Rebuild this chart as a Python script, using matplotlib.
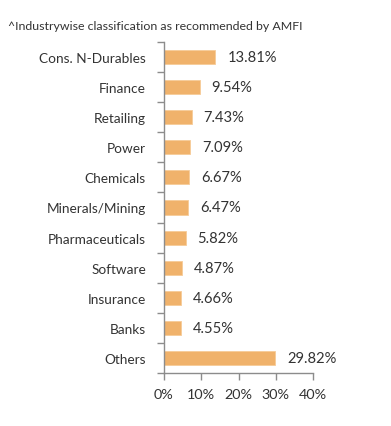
import matplotlib.pyplot as plt
import numpy as np

plt.rcParams['font.family'] = ['Lato', 'DejaVu Sans']

categories = ["Cons. N-Durables", "Finance", "Retailing", "Power", "Chemicals",
              "Minerals/Mining", "Pharmaceuticals", "Software", "Insurance",
              "Banks", "Others"]
values = [13.81, 9.54, 7.43, 7.09, 6.67, 6.47, 5.82, 4.87, 4.66, 4.55, 29.82]
x_ticks = [0, 10, 20, 30, 40]
note = "^Industrywise classification as recommended by AMFI"

bar_color = "#F0B26B"
axis_color = "#8c8c8c"
text_color = "#333333"

fig = plt.figure(figsize=(3.91, 4.27), dpi=100)
ax = fig.add_axes([164 / 391, 1 - 374 / 427, (313 - 164) / 391, (374 - 43) / 427])

y = np.arange(len(categories))
ax.barh(y, values, height=0.47, color=bar_color, edgecolor="#F6CB98", linewidth=0.6)
for yi, v in zip(y, values):
    ax.text(v + 3.2, yi, f"{v:.2f}%", va="center", ha="left",
            fontsize=10.6, color=text_color)

ax.set_xlim(0, 40)
ax.set_ylim(len(categories) - 0.5, -0.5)
ax.set_xticks(x_ticks)
ax.set_xticklabels([f"{t}%" for t in x_ticks], fontsize=10.4, color=text_color)
ax.set_yticks(y)
ax.set_yticklabels(categories, fontsize=9.8, color=text_color)
ax.set_yticks(np.arange(len(categories) + 1) - 0.5, minor=True)
ax.tick_params(axis="y", which="major", length=0, pad=13)
ax.tick_params(axis="y", which="minor", length=5, color=axis_color, width=1)
ax.tick_params(axis="x", length=5, color=axis_color, width=1, pad=6)

for s in ["top", "right"]:
    ax.spines[s].set_visible(False)
for s in ["left", "bottom"]:
    ax.spines[s].set_color(axis_color)
    ax.spines[s].set_linewidth(1)

fig.text(8 / 391, 1 - 27 / 427, note, fontsize=8.9, color=text_color, va="center")

fig.savefig("out.png", dpi=100, facecolor="white")
